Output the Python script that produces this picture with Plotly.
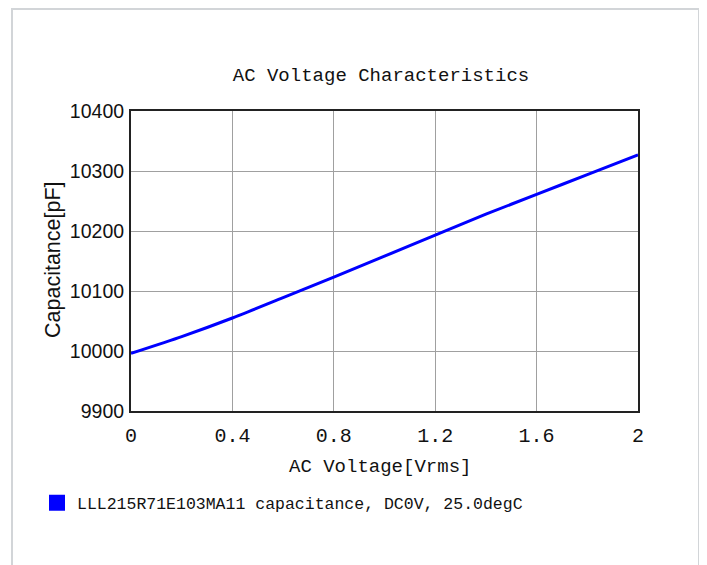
import plotly.graph_objects as go

# Data
ac_voltage = [0.0, 0.2, 0.4, 0.6, 0.8, 1.0, 1.2, 1.4, 1.6, 1.8, 2.0]
capacitance = [9996, 10024, 10055, 10089, 10123, 10158, 10193, 10228, 10261, 10294, 10327]
x_ticks = [0, 0.4, 0.8, 1.2, 1.6, 2]
x_tick_labels = ["0", "0.4", "0.8", "1.2", "1.6", "2"]
y_ticks = [9900, 10000, 10100, 10200, 10300, 10400]
y_tick_labels = ["9900", "10000", "10100", "10200", "10300", "10400"]
series_name = "LLL215R71E103MA11 capacitance, DC0V, 25.0degC"

MONO = "Liberation Mono"
SANS = "Liberation Sans"

fig = go.Figure()
fig.add_trace(go.Scatter(
    x=ac_voltage, y=capacitance, mode="lines",
    line=dict(color="#0000ff", width=3, shape="spline", smoothing=0.6),
    showlegend=False, hoverinfo="x+y",
))
# legend entry (square swatch like the reference)
fig.add_trace(go.Scatter(
    x=[None], y=[None], mode="markers", name=series_name,
    marker=dict(symbol="square", size=17, color="#0000ff"),
    showlegend=True,
))

# plot area in reference pixel coordinates; page body adds an 8px offset
OFF = 8
L, T, W, H = 131, 111, 507, 300
FW, FH = 707 - OFF, 565 - OFF
def px(x):
    return (x - L) / W
def py(y):
    return (T + H - y) / H

fig.update_layout(
    width=FW, height=FH,
    margin=dict(l=L - OFF, r=FW - (L - OFF) - W, t=T - OFF, b=FH - (T - OFF) - H),
    paper_bgcolor="white", plot_bgcolor="white",
    title=dict(text="AC Voltage Characteristics", x=px(381), xanchor="center", xref="paper",
               y=1 - (74 - OFF) / FH, yanchor="middle", yref="container",
               font=dict(family=MONO, size=19, color="#111")),
    xaxis=dict(range=[0, 2], tickvals=x_ticks, ticktext=x_tick_labels,
               showgrid=True, gridcolor="#a0a0a0", gridwidth=1,
               showline=True, linecolor="#222", linewidth=2, mirror=True,
               zeroline=False, ticks="", ticklabelstandoff=5,
               tickfont=dict(family=MONO, size=20, color="#111")),
    yaxis=dict(range=[9900, 10400], tickvals=y_ticks, ticktext=y_tick_labels,
               showgrid=True, gridcolor="#a0a0a0", gridwidth=1,
               showline=True, linecolor="#222", linewidth=2, mirror=True,
               zeroline=False, ticks="", ticklabelstandoff=1,
               tickfont=dict(family=SANS, size=19.5, color="#111")),
    legend=dict(x=px(37), y=py(503), xanchor="left", yanchor="middle",
                font=dict(family=MONO, size=16.5, color="#111"),
                bgcolor="rgba(0,0,0,0)", itemwidth=30),
    annotations=[
        dict(text="AC Voltage[Vrms]", xref="paper", yref="paper",
             x=px(380), y=py(467), xanchor="center", yanchor="middle",
             showarrow=False, font=dict(family=MONO, size=19, color="#111")),
        dict(text="Capacitance[pF]", xref="paper", yref="paper",
             x=px(53), y=py(260), xanchor="center", yanchor="middle",
             textangle=-90, showarrow=False,
             font=dict(family=SANS, size=21.5, color="#111")),
    ],
    shapes=[
        dict(type="rect", xref="paper", yref="paper",
             x0=px(12), x1=px(699), y0=py(9), y1=py(620),
             line=dict(color="#d2d5d8", width=2), layer="below"),
    ],
)

fig.write_html("out.html")
